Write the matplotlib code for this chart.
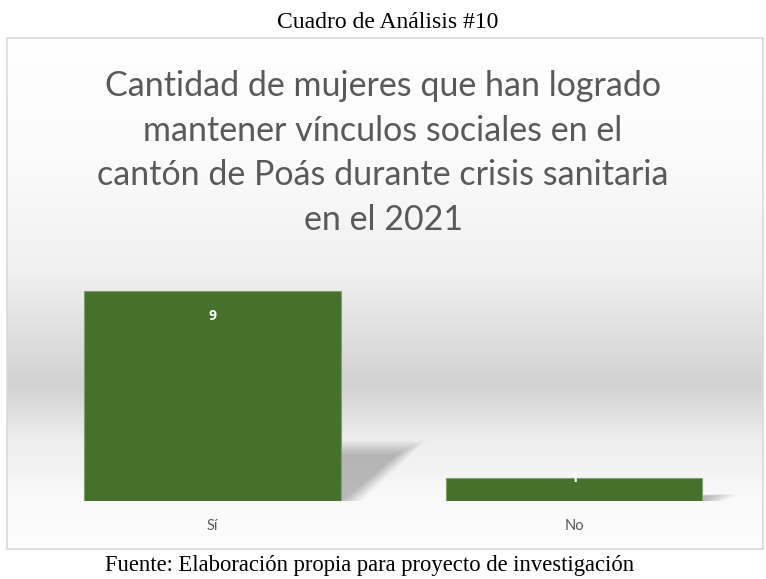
import numpy as np
import matplotlib.pyplot as plt
from matplotlib.patches import Rectangle, Polygon

# data
categories = ["Sí", "No"]
counts = [9, 1]

header = "Cuadro de Análisis #10"
title = ("Cantidad de mujeres que han logrado\n"
         "mantener vínculos sociales en el\n"
         "cantón de Poás durante crisis sanitaria\n"
         "en el 2021")
footer = "Fuente: Elaboración propia para proyecto de investigación"

W, H = 766, 579
fig = plt.figure(figsize=(W / 100, H / 100), dpi=100)
fig.patch.set_facecolor("white")

# chart box (pixels from top-left)
bx0, bx1, by0, by1 = 7, 763, 38, 549
box = [bx0 / W, 1 - by1 / H, (bx1 - bx0) / W, (by1 - by0) / H]

# gradient background
bg = fig.add_axes(box)
rows = np.arange(by0, by1)
stops_px = [by0, 160, 270, 385, 440, 500, by1]
stops_val = [0.995, 0.98, 0.94, 0.82, 0.93, 0.975, 0.988]
shade = np.interp(rows, stops_px, stops_val)
bg.imshow(np.repeat(shade[:, None], 40, axis=1), cmap="gray", vmin=0, vmax=1,
          aspect="auto", interpolation="none", extent=[0, 1, 0, 1])
bg.set_axis_off()
fig.patches.append(Rectangle((box[0], box[1]), box[2], box[3], transform=fig.transFigure,
                             fill=False, edgecolor="#d9d9d9", linewidth=1.2, zorder=5))

# plot area
ax = fig.add_axes([31.75 / W, 1 - 501 / H, 723 / W, (501 - 267.7) / H])
ax.set_facecolor("none")
x = np.arange(len(categories))
bw = 0.71

# soft perspective shadows (layered to fake a blur)
for xi, v in zip(x, counts):
    x0, x1 = xi - bw / 2, xi + bw / 2
    sh = 0.22 * v
    dx = 0.017 * v
    for k in range(16):
        g = 0.0035 * k
        poly = Polygon([(x0 + 0.05, 0), (x1 + 0.005 + g, 0),
                        (x1 + dx + 1.6 * g, sh + 12 * g * (v / 9)),
                        (x0 + dx, sh + 12 * g * (v / 9))],
                       closed=True, facecolor="black", edgecolor="none",
                       alpha=0.016, zorder=1)
        ax.add_patch(poly)

bars = ax.bar(x, counts, width=bw, color="#46702c", edgecolor="#7f9f6c",
              linewidth=0.8, zorder=3)

for xi, v in zip(x, counts):
    ypos = v - 1.07 if v - 1.07 > v / 2 else v
    ax.text(xi, ypos, str(v), ha="center", va="center", color="white",
            fontsize=10, fontweight="bold", family="Open Sans", zorder=4)

ax.set_xlim(-0.5, 1.5)
ax.set_ylim(0, 10)
ax.set_xticks(x)
ax.set_xticklabels(categories, family="Lato", fontsize=10.5, color="#595959")
ax.tick_params(axis="x", length=0, pad=13)
ax.set_yticks([])
for s in ax.spines.values():
    s.set_visible(False)

fig.text(0.5, 1 - 153 / H, title, ha="center", va="center", family="Lato",
         fontsize=24.5, color="#595959", linespacing=1.48)
fig.text(388 / W, 1 - 22 / H, header, ha="center", va="center",
         family="Liberation Serif", fontsize=17, color="black")
fig.text(370 / W, 1 - 566 / H, footer, ha="center", va="center",
         family="Liberation Serif", fontsize=16.3, color="black")

fig.savefig("out.png", dpi=100)
